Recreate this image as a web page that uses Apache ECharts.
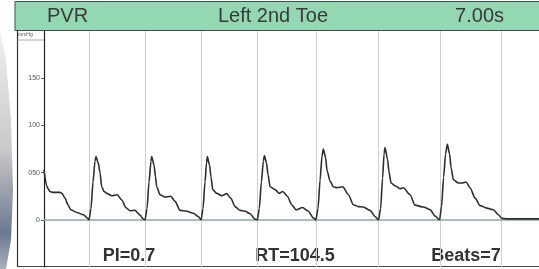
<!DOCTYPE html>
<html><head><meta charset="utf-8">
<script src="https://cdn.jsdelivr.net/npm/echarts@6/dist/echarts.min.js"></script>
<style>html,body{margin:0;padding:0;background:#fff}#c{width:539px;height:269px}</style>
</head><body><div id="c"></div>
<script>
// Time (s) and pressure (mmHg) samples
const beat1 = [[0,53],[0.038,36],[0.057,33],[0.085,30],[0.127,29],[0.226,29],[0.255,28],[0.297,23],[0.339,16],[0.378,10.6],[0.463,7.8],[0.556,5.3],[0.627,1]];
const beat2 = [[0.636,0],[0.665,12],[0.693,40],[0.721,62],[0.735,67],[0.768,60],[0.792,50],[0.816,35],[0.849,30],[0.887,28],[0.958,25.5],[1.037,26.6],[1.099,21],[1.160,12.8],[1.216,9.6],[1.287,10],[1.358,5],[1.404,0.7]];
const beat3 = [[1.429,0],[1.457,12],[1.485,40],[1.513,62],[1.523,67],[1.556,58],[1.577,45],[1.594,35],[1.641,26.6],[1.711,24],[1.792,25],[1.853,19.5],[1.924,10],[2.018,9],[2.112,7],[2.182,3.5]];
const beat4 = [[2.221,0],[2.249,12],[2.277,40],[2.298,60],[2.310,67],[2.341,58],[2.362,45],[2.386,32],[2.443,28],[2.513,25.5],[2.584,27.7],[2.641,23],[2.702,14],[2.772,10],[2.843,9],[2.914,6.4],[2.984,0.7]];
const beat5 = [[3.017,0],[3.045,12],[3.074,40],[3.102,62],[3.116,68],[3.147,60],[3.168,48],[3.197,35],[3.267,32],[3.328,28],[3.376,30],[3.441,25],[3.503,16],[3.564,10.6],[3.656,13],[3.738,9],[3.809,2]];
const beat6 = [[3.845,0],[3.875,12],[3.904,42],[3.932,68],[3.950,75],[3.982,66],[4.003,52],[4.045,41],[4.092,35],[4.140,34],[4.225,35],[4.304,26.6],[4.375,16],[4.445,14],[4.516,13.5],[4.611,10],[4.682,3.5]];
const beat7 = [[4.731,0],[4.760,12],[4.788,44],[4.809,70],[4.823,76.5],[4.858,64],[4.880,50],[4.908,39],[4.965,36],[5.035,33],[5.082,34],[5.177,26.6],[5.247,15.5],[5.365,13.5],[5.460,10.8],[5.530,4]];
const beat8 = [[5.594,0],[5.622,14],[5.651,45],[5.679,70],[5.704,80],[5.735,70],[5.757,55],[5.789,42.5],[5.860,39],[5.912,39],[5.969,40],[6.025,34],[6.096,23],[6.167,15],[6.262,12.4],[6.355,10.6],[6.426,5.3],[6.474,1.5]];
const tail = [[6.55,1],[7.0,1]];
const beatMarkers = [0.636,1.429,2.221,3.013,3.847,4.731,5.601,6.464];
const yTicks = [0,50,100,150];
const yTickLabels = ['0','050','100','150'];
const headerTexts = ['PVR','Left 2nd Toe','7.00s'];
const footerTexts = ['PI=0.7','RT=104.5','Beats=7'];

const trace = [].concat(beat1,beat2,beat3,beat4,beat5,beat6,beat7,beat8,tail);
const chart = echarts.init(document.getElementById('c'), null, {renderer:'canvas'});
const FONT = 'Liberation Sans, Arial, sans-serif';
chart.setOption({
  animation:false,
  backgroundColor:'#ffffff',
  grid:{left:44,right:0,top:31,bottom:2},
  xAxis:{type:'value',min:0,max:7,show:false},
  yAxis:{type:'value',min:-50,max:200,interval:50,
    axisLine:{show:true,onZero:false,lineStyle:{color:'#222',width:1.2}},
    axisTick:{show:true,length:3,customValues:yTicks,lineStyle:{color:'#666'}},
    axisLabel:{customValues:yTicks,fontSize:7,color:'#555',margin:4,fontFamily:FONT,
      formatter:v=>{const i=yTicks.indexOf(v);return i>=0?yTickLabels[i]:'';}},
    splitLine:{show:false}},
  series:[{
    type:'line',data:trace,showSymbol:false,smooth:0.25,smoothMonotone:'x',
    lineStyle:{color:'#2e2e2e',width:1.6},z:5,
    markLine:{silent:true,symbol:'none',label:{show:false},
      data:[].concat(
        beatMarkers.map(x=>({xAxis:x,lineStyle:{color:'#cfcfcf',width:1,type:'solid'}})),
        [{yAxis:0,lineStyle:{color:'#86a9a0',width:1.5,type:'solid'}}])}
  }],
  graphic:[
    {type:'polygon',z:-1,shape:{points:[[0,30],[6,60],[11,120],[13,190],[11,240],[6,269],[0,269]]},
      style:{fill:new echarts.graphic.LinearGradient(0,0,0,1,[{offset:0,color:'#f0f0f0'},{offset:0.5,color:'#c9c9c9'},{offset:0.85,color:'#6a7890'},{offset:1,color:'#aab0bb'}])}},
    {type:'rect',shape:{x:15,y:1.5,width:530,height:29},style:{fill:'#93d8b3',stroke:'#4a4a4a',lineWidth:1}},
    {type:'text',style:{text:headerTexts[0],x:47,y:16,fontSize:20,fontFamily:FONT,fill:'#3a3a3a',textVerticalAlign:'middle'}},
    {type:'text',style:{text:headerTexts[1],x:273,y:16,fontSize:20,fontFamily:FONT,fill:'#3a3a3a',textAlign:'center',textVerticalAlign:'middle'}},
    {type:'text',style:{text:headerTexts[2],x:504,y:16,fontSize:20,fontFamily:FONT,fill:'#3a3a3a',textAlign:'right',textVerticalAlign:'middle'}},
    {type:'line',shape:{x1:17.5,y1:30,x2:17.5,y2:266.5},style:{stroke:'#333',lineWidth:1.2}},
    {type:'line',shape:{x1:17,y1:266.5,x2:539,y2:266.5},style:{stroke:'#444',lineWidth:1.2}},
    {type:'line',shape:{x1:17,y1:40,x2:44,y2:40},style:{stroke:'#777',lineWidth:0.6}},
    {type:'text',style:{text:'mmHg',x:18,y:35,fontSize:5,fontFamily:FONT,fill:'#555',textVerticalAlign:'middle'}},
    {type:'text',style:{text:footerTexts[0],x:129,y:256,fontSize:18,fontWeight:'bold',fontFamily:FONT,fill:'#333',textAlign:'center',textVerticalAlign:'middle'}},
    {type:'text',style:{text:footerTexts[1],x:295,y:256,fontSize:18,fontWeight:'bold',fontFamily:FONT,fill:'#333',textAlign:'center',textVerticalAlign:'middle'}},
    {type:'text',style:{text:footerTexts[2],x:466,y:256,fontSize:18,fontWeight:'bold',fontFamily:FONT,fill:'#333',textAlign:'center',textVerticalAlign:'middle'}}
  ]
});
</script></body></html>
